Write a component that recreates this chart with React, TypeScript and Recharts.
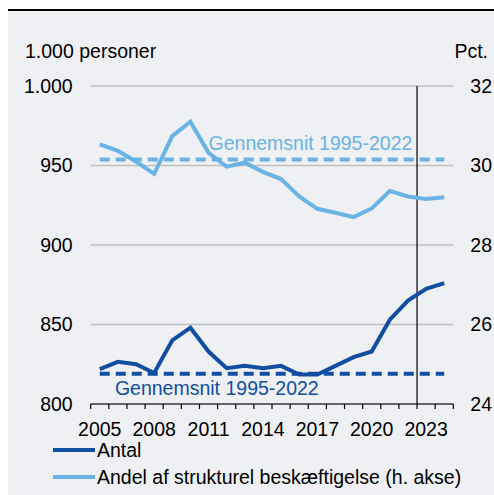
import React from 'react';
import { LineChart, Line, XAxis, YAxis, CartesianGrid, ReferenceLine } from 'recharts';

const years = [2005, 2006, 2007, 2008, 2009, 2010, 2011, 2012, 2013, 2014, 2015, 2016, 2017, 2018, 2019, 2020, 2021, 2022, 2023, 2024];
const antal = [822, 826.5, 825, 819.5, 840, 848, 833, 822.5, 824, 822.5, 824, 818.5, 818.5, 824, 829.5, 833, 853, 865, 872.5, 876];
const andel = [30.53, 30.37, 30.1, 29.79, 30.74, 31.1, 30.32, 29.97, 30.07, 29.84, 29.66, 29.22, 28.91, 28.81, 28.7, 28.92, 29.36, 29.22, 29.16, 29.2];
const gnsAntal = 819;
const gnsAndel = 30.15;
const xLabelTicks = [2005, 2008, 2011, 2014, 2017, 2020, 2023];
const xBoundaryTicks = [2004.5, ...years.map((y) => y + 0.5)];
const leftTicks = [800, 850, 900, 950, 1000];
const rightTicks = [24, 26, 28, 30, 32];
const splitYear = 2022.5;
const gnsText = 'Gennemsnit 1995-2022';

const DARK = '#114ea1';
const LIGHT = '#69b3e5';
const BG = '#eff0f3';
const FONT = '"Liberation Sans", Arial, sans-serif';
const FS = 19.5;

const data = years.map((year, i) => ({
  year,
  antal: antal[i],
  andel: andel[i],
  gnsAntal,
  gnsAndel,
}));

const fmtThousand = (v: number) => v.toLocaleString('da-DK');

const makeLabel = (idx: number, color: string, dx: number, dy: number) => (p: any) => {
  if (p.index !== idx) return <g key={`l${p.index}`} />;
  return (
    <text key="lbl" x={p.x + dx} y={p.y + dy} fill={color} fontSize={FS} fontFamily={FONT} textAnchor="start">
      {gnsText}
    </text>
  );
};

export default function App() {
  return (
    <div
      style={{
        position: 'fixed',
        left: 8,
        top: 9,
        width: 486,
        height: 486,
        background: BG,
        borderTop: '2px solid #000',
        boxSizing: 'border-box',
        fontFamily: FONT,
      }}
    >
      <div style={{ position: 'absolute', left: 17, top: 31, fontSize: FS, lineHeight: '19px', color: '#000' }}>
        1.000 personer
      </div>
      <div style={{ position: 'absolute', right: 6, top: 31, fontSize: FS, lineHeight: '19px', color: '#000' }}>
        Pct.
      </div>
      <LineChart width={486} height={484} data={data} margin={{ top: 75, right: 0.7, left: 22.7, bottom: 55 }}>
        <CartesianGrid xAxisId="a" yAxisId="left" vertical={false} stroke="#c0c0c0" strokeWidth={1.5} />
        <XAxis
          xAxisId="a"
          dataKey="year"
          type="number"
          domain={[2004.5, 2024.5]}
          allowDataOverflow
          ticks={xBoundaryTicks}
          interval={0}
          tickFormatter={() => ''}
          tickSize={5}
          height={6}
          axisLine={{ stroke: '#000', strokeWidth: 1.2 }}
          tickLine={{ stroke: '#000', strokeWidth: 1.2 }}
        />
        <XAxis
          xAxisId="b"
          dataKey="year"
          type="number"
          domain={[2004.5, 2024.5]}
          allowDataOverflow
          ticks={xLabelTicks}
          interval={0}
          height={30}
          axisLine={false}
          tickLine={false}
          tickSize={0}
          tickMargin={12}
          tick={{ fill: '#000', fontSize: FS, fontFamily: FONT }}
        />
        <YAxis
          yAxisId="left"
          orientation="left"
          width={60}
          domain={[800, 1000]}
          ticks={leftTicks}
          interval={0}
          axisLine={false}
          tickLine={false}
          tickSize={0}
          tickMargin={18}
          tickFormatter={fmtThousand}
          tick={{ fill: '#000', fontSize: FS, fontFamily: FONT }}
        />
        <YAxis
          yAxisId="right"
          orientation="right"
          width={40}
          domain={[24, 32]}
          ticks={rightTicks}
          interval={0}
          axisLine={false}
          tickLine={false}
          tickSize={0}
          tickMargin={17}
          tick={{ fill: '#000', fontSize: FS, fontFamily: FONT }}
        />
        <ReferenceLine xAxisId="a" yAxisId="left" x={splitYear} stroke="#000" strokeWidth={1.2} />
        <Line
          xAxisId="a"
          yAxisId="right"
          dataKey="gnsAndel"
          stroke={LIGHT}
          strokeWidth={4}
          strokeDasharray="10 6"
          dot={false}
          activeDot={false}
          isAnimationActive={false}
          label={makeLabel(6, LIGHT, 0, -10)}
        />
        <Line
          xAxisId="a"
          yAxisId="left"
          dataKey="gnsAntal"
          stroke={DARK}
          strokeWidth={4}
          strokeDasharray="10 6"
          dot={false}
          activeDot={false}
          isAnimationActive={false}
          label={makeLabel(1, DARK, -3, 21)}
        />
        <Line
          xAxisId="a"
          yAxisId="right"
          dataKey="andel"
          stroke={LIGHT}
          strokeWidth={4}
          dot={false}
          activeDot={false}
          isAnimationActive={false}
        />
        <Line
          xAxisId="a"
          yAxisId="left"
          dataKey="antal"
          stroke={DARK}
          strokeWidth={4}
          dot={false}
          activeDot={false}
          isAnimationActive={false}
        />
      </LineChart>
      {[
        { name: 'Antal', color: DARK, top: 429.5 },
        { name: 'Andel af strukturel beskæftigelse (h. akse)', color: LIGHT, top: 456.5 },
      ].map((item) => (
        <div
          key={item.name}
          style={{
            position: 'absolute',
            left: 45,
            top: item.top,
            height: 19,
            display: 'flex',
            alignItems: 'center',
            fontSize: FS,
            lineHeight: '19px',
            color: '#000',
            whiteSpace: 'nowrap',
          }}
        >
          <span style={{ display: 'inline-block', width: 42, height: 4, background: item.color, marginRight: 2 }} />
          <span>{item.name}</span>
        </div>
      ))}
    </div>
  );
}
